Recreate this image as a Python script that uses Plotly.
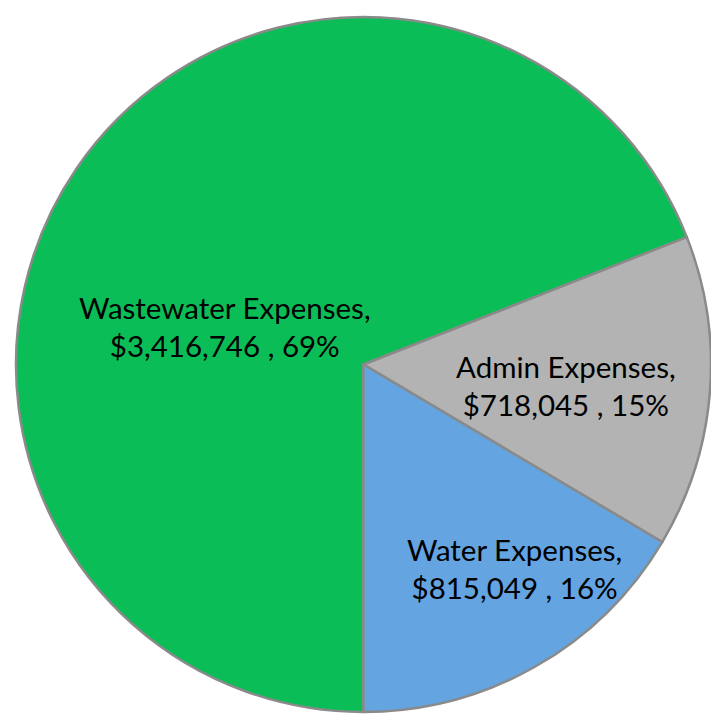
import plotly.graph_objects as go

# Expense breakdown
categories = ["Wastewater Expenses", "Admin Expenses", "Water Expenses"]
amounts = [3416746, 718045, 815049]
colors = ["#0BBD56", "#B3B3B3", "#63A4E1"]

W, H = 711, 715

total = sum(amounts)
label_text = [
    f"{c},<br>${v:,} , {round(100 * v / total)}%"
    for c, v in zip(categories, amounts)
]

# label centres in pixels (x from left, y from top)
label_px = [(225, 326), (566, 386), (514, 568)]

fig = go.Figure(
    go.Pie(
        labels=categories,
        values=amounts,
        sort=False,
        direction="clockwise",
        rotation=180,
        marker=dict(colors=colors, line=dict(color="#8a8a8a", width=2.5)),
        textinfo="none",
        hoverinfo="label+value+percent",
        domain=dict(x=[16 / W, 1], y=[0, 1 - 14 / H]),
        showlegend=False,
    )
)

for txt, (px, py) in zip(label_text, label_px):
    fig.add_annotation(
        x=px / W, y=1 - py / H, xref="paper", yref="paper",
        text=txt, showarrow=False, xanchor="center", yanchor="middle",
        align="center", font=dict(family="Lato", size=29.5, color="#000000"),
    )

fig.update_layout(
    width=W, height=H,
    margin=dict(l=0, r=0, t=0, b=0),
    paper_bgcolor="white", plot_bgcolor="white",
)

fig.write_html("out.html")
